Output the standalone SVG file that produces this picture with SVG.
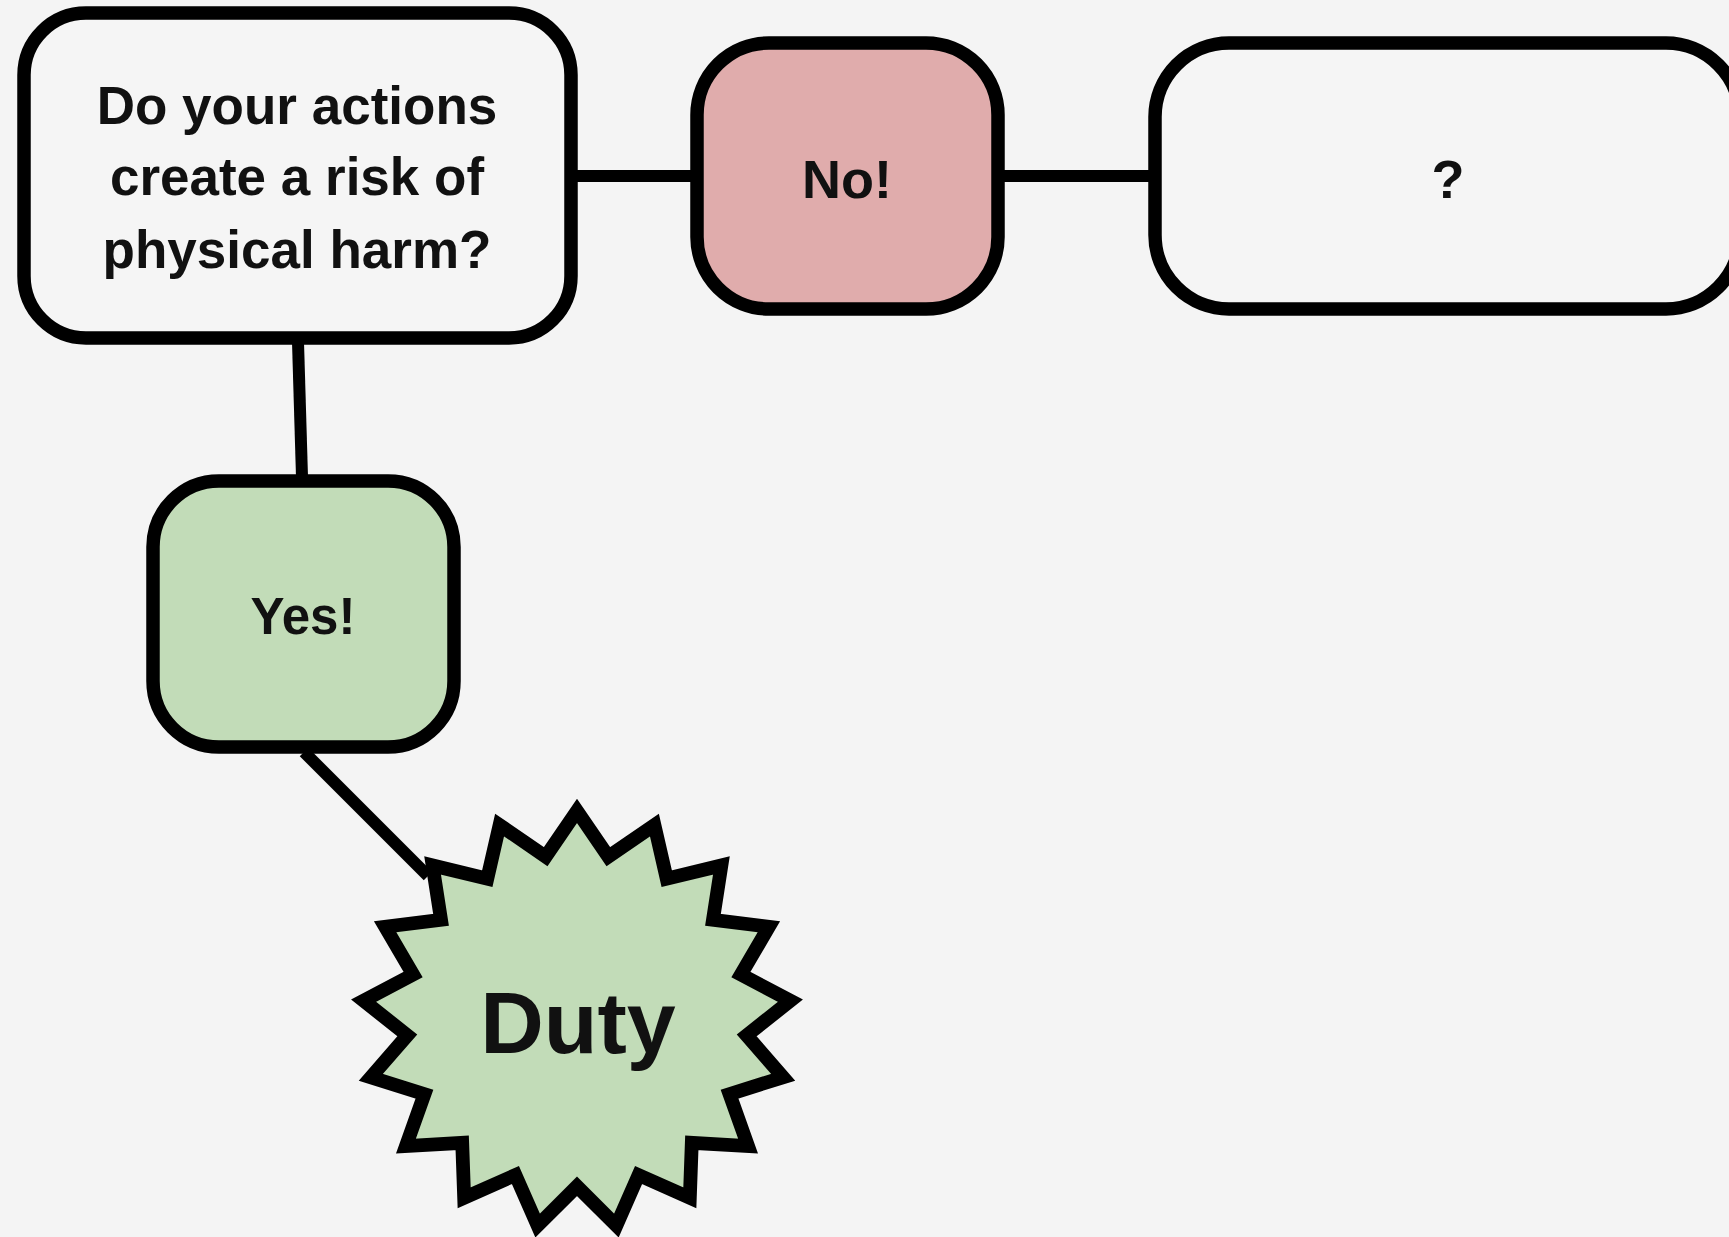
<svg xmlns="http://www.w3.org/2000/svg" width="1729" height="1237" viewBox="0 0 1729 1237">
  <style>
    .box { stroke: #000; stroke-width: 13.5; }
    .plain { fill: #f5f5f5; }
    .red { fill: #e0acac; }
    .green { fill: #c2dcb8; }
    .conn { stroke: #000; stroke-width: 12; fill: none; }
    text { font-family: "Liberation Sans", Arial, sans-serif; font-weight: 700; fill: #111; text-anchor: middle; }
    .t1 { font-size: 53px; }
    .t2 { font-size: 54px; }
    .t3 { font-size: 51px; }
    .t4 { font-size: 88px; }
  </style>
  <rect x="0" y="0" width="1729" height="1237" fill="#f4f4f4"/>
  <g id="connectors">
    <line class="conn" x1="576" y1="176" x2="691" y2="176"/>
    <line class="conn" x1="1003" y1="176" x2="1149" y2="176"/>
    <line class="conn" x1="298" y1="342" x2="302" y2="477"/>
    <line class="conn" x1="304" y1="752" x2="428" y2="876"/>
  </g>
  <g id="question">
    <rect class="box plain" x="24" y="13" width="547" height="325" rx="62" ry="62"/>
    <text class="t1" x="297" y="124">Do your actions</text>
    <text class="t1" x="297" y="195">create a risk of</text>
    <text class="t1" x="297" y="268">physical harm?</text>
  </g>
  <g id="no">
    <rect class="box red" x="697" y="43" width="301" height="266" rx="72" ry="72"/>
    <text class="t2" x="847" y="198">No!</text>
  </g>
  <g id="unknown">
    <rect class="box plain" x="1155" y="43" width="585" height="266" rx="74" ry="74"/>
    <text class="t2" x="1448" y="198">?</text>
  </g>
  <g id="yes">
    <rect class="box green" x="153" y="481" width="301" height="266" rx="66" ry="66"/>
    <text class="t3" x="303" y="634">Yes!</text>
  </g>
  <g id="duty">
    <polygon class="box green" stroke-width="15" stroke-linejoin="miter" stroke-miterlimit="10" transform="translate(577 1020) scale(1.02 1.02) translate(-577 -1020)" points="577,815 607.70,859.78 652.90,828.84 664.95,881.41 718.56,868.50 710.32,921.77 765.10,928.62 737.70,975.40 786.22,1001.08 743.35,1035.04 779.11,1076.10 726.55,1092.66 744.68,1143.54 689.55,1140.45 687.62,1194.30 637.36,1171.99 615.61,1221.51 577,1183 538.39,1221.51 516.64,1171.99 466.38,1194.30 464.45,1140.45 409.32,1143.54 427.45,1092.66 374.89,1076.10 410.65,1035.04 367.78,1001.08 416.30,975.40 388.90,928.62 443.68,921.77 435.44,868.50 489.05,881.41 501.10,828.84 546.30,859.78"/>
    <text class="t4" x="578" y="1053">Duty</text>
  </g>
</svg>
